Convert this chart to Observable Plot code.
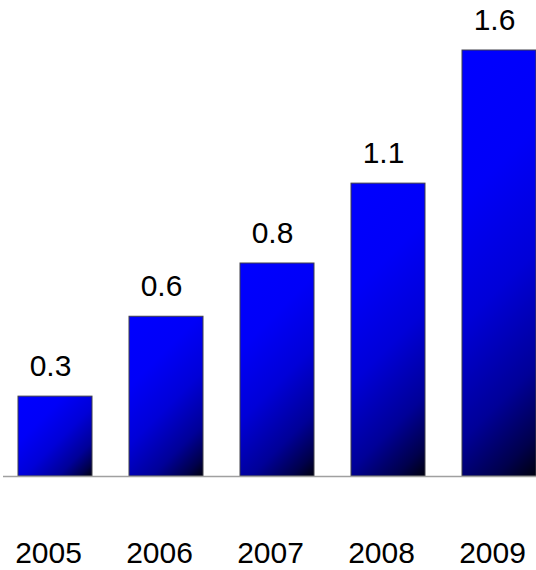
<!DOCTYPE html>
<html>
<head>
<meta charset="utf-8">
<script src="https://cdn.jsdelivr.net/npm/d3@7"></script>
<script src="https://cdn.jsdelivr.net/npm/@observablehq/plot@0.6"></script>
<style>
  html, body { margin: 0; padding: 0; background: #fff; overflow: hidden; }
  #chart svg { display: block; overflow: hidden; }
</style>
</head>
<body>
<div id="chart"></div>
<script>
// Yearly values shown above each bar
const years = ["2005", "2006", "2007", "2008", "2009"];
const values = [0.3, 0.6, 0.8, 1.1, 1.6];

const data = years.map((year, i) => ({year, value: values[i]}));

const fontFamily = "'Liberation Sans', Arial, Helvetica, sans-serif";

const chart = Plot.plot({
  width: 536,
  height: 570,
  marginTop: 50,
  marginBottom: 94,
  marginLeft: 3,
  marginRight: 0,
  style: {fontFamily, fontSize: "30px", color: "#000", background: "#fff"},
  x: {
    domain: years,
    range: [0, 553],
    paddingInner: 0.335,
    paddingOuter: 0.153,
    label: null
  },
  y: {domain: [0, 1.6], axis: null},
  marks: [
    Plot.barY(data, {
      x: "year",
      y: "value",
      fill: "#0000ff",
      stroke: "#40404a",
      strokeWidth: 1
    }),
    Plot.ruleY([0], {stroke: "#a0a0a0", strokeWidth: 1.5}),
    Plot.text(data, {
      x: "year",
      y: "value",
      text: d => d.value.toFixed(1),
      lineAnchor: "bottom",
      dx: -5,
      dy: -21,
      fontSize: 30,
      fill: "#000"
    }),
    Plot.axisX({
      tickSize: 0,
      tickPadding: 65,
      dx: -7,
      fontSize: 30,
      label: null
    })
  ]
});

document.getElementById("chart").appendChild(chart);

// Give each bar its own diagonal blue-to-black gradient, running at 45°
// from the top-left corner to the bottom-right corner of the rectangle.
const svg = d3.select(chart);
const defs = svg.insert("defs", ":first-child");
const stops = [
  [0, "#0000ff"],
  [0.3, "#0000f8"],
  [0.55, "#0000d8"],
  [0.78, "#000098"],
  [0.92, "#00004c"],
  [1, "#000010"]
];
svg.selectAll('g[aria-label="bar"] rect').each(function (d, i) {
  const r = d3.select(this);
  const x = +r.attr("x"), y = +r.attr("y");
  const w = +r.attr("width"), h = +r.attr("height");
  const s = (w + h) / 2;
  const id = "bar-gradient-" + i;
  const g = defs.append("linearGradient")
    .attr("id", id)
    .attr("gradientUnits", "userSpaceOnUse")
    .attr("x1", x).attr("y1", y)
    .attr("x2", x + s).attr("y2", y + s);
  for (const [o, c] of stops) g.append("stop").attr("offset", o).attr("stop-color", c);
  r.attr("fill", `url(#${id})`);
});
</script>
</body>
</html>
